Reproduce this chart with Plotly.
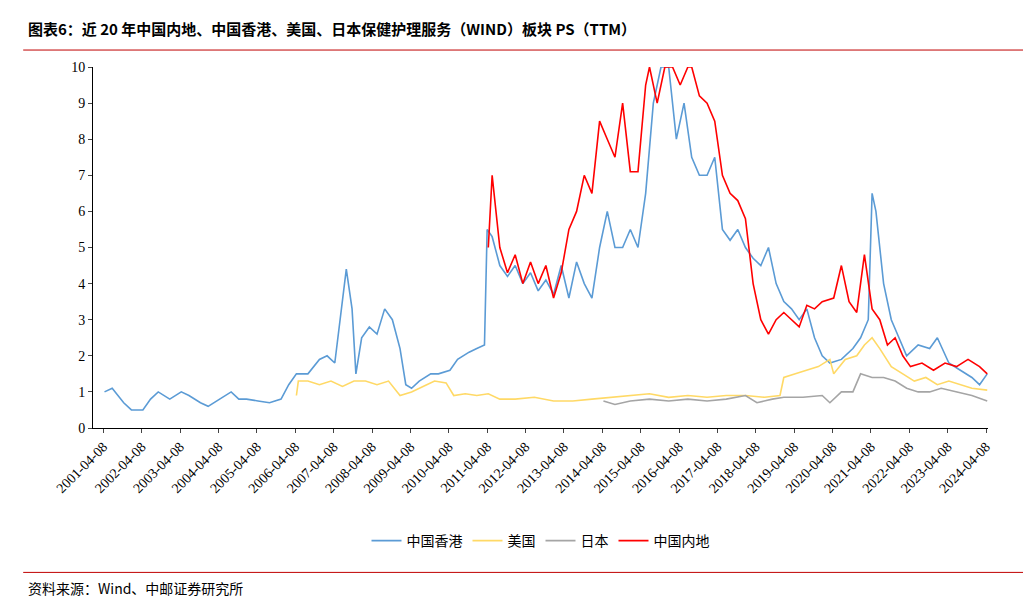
import plotly.graph_objects as go

# decimal years and PS values
hk_x = [2001.3, 2001.5, 2001.8, 2002.0, 2002.3, 2002.5, 2002.7, 2003.0, 2003.3, 2003.5, 2003.8, 2004.0, 2004.3, 2004.6,
        2004.8, 2005.0, 2005.3, 2005.6, 2005.9, 2006.1, 2006.3, 2006.6, 2006.9, 2007.1, 2007.3, 2007.5, 2007.6, 2007.75,
        2007.85, 2008.0, 2008.2, 2008.4, 2008.6, 2008.8, 2009.0, 2009.15, 2009.3, 2009.5, 2009.8, 2010.0, 2010.3, 2010.5,
        2010.8, 2011.0, 2011.2, 2011.27, 2011.4, 2011.6, 2011.8, 2012.0, 2012.2, 2012.4, 2012.6, 2012.8, 2013.0, 2013.2,
        2013.4, 2013.6, 2013.8, 2014.0, 2014.2, 2014.4, 2014.6, 2014.8, 2015.0, 2015.2, 2015.4, 2015.6, 2015.8, 2016.0,
        2016.2, 2016.4, 2016.6, 2016.8, 2017.0, 2017.2, 2017.4, 2017.6, 2017.8, 2018.0, 2018.2, 2018.4, 2018.6, 2018.8,
        2019.0, 2019.2, 2019.4, 2019.6, 2019.8, 2020.0, 2020.2, 2020.5, 2020.8, 2021.0, 2021.2, 2021.3, 2021.4, 2021.6,
        2021.8, 2022.0, 2022.2, 2022.5, 2022.8, 2023.0, 2023.3, 2023.6, 2023.9, 2024.1, 2024.3]
hk_y = [1.0, 1.1, 0.7, 0.5, 0.5, 0.8, 1.0, 0.8, 1.0, 0.9, 0.7, 0.6, 0.8, 1.0,
        0.8, 0.8, 0.75, 0.7, 0.8, 1.2, 1.5, 1.5, 1.9, 2.0, 1.8, 3.6, 4.4, 3.3,
        1.5, 2.5, 2.8, 2.6, 3.3, 3.0, 2.2, 1.2, 1.1, 1.3, 1.5, 1.5, 1.6, 1.9,
        2.1, 2.2, 2.3, 5.5, 5.3, 4.5, 4.2, 4.5, 4.0, 4.3, 3.8, 4.1, 3.7, 4.5,
        3.6, 4.6, 4.0, 3.6, 5.0, 6.0, 5.0, 5.0, 5.5, 5.0, 6.5, 9.0, 10, 10,
        8.0, 9.0, 7.5, 7.0, 7.0, 7.5, 5.5, 5.2, 5.5, 5.0, 4.7, 4.5, 5.0, 4.0,
        3.5, 3.3, 3.0, 3.3, 2.5, 2.0, 1.8, 1.9, 2.2, 2.5, 3.0, 6.5, 6.0, 4.0,
        3.0, 2.5, 2.0, 2.3, 2.2, 2.5, 1.8, 1.6, 1.4, 1.2, 1.5]

us_x = [2006.3, 2006.35, 2006.6, 2006.9, 2007.2, 2007.5, 2007.8, 2008.1, 2008.4, 2008.7, 2009.0, 2009.3, 2009.6, 2009.9,
        2010.2, 2010.4, 2010.7, 2011.0, 2011.3, 2011.6, 2012.0, 2012.5, 2013.0, 2013.5, 2014.0, 2014.5, 2015.0, 2015.5,
        2016.0, 2016.5, 2017.0, 2017.5, 2018.0, 2018.5, 2018.9, 2019.0, 2019.3, 2019.6, 2019.9, 2020.2, 2020.3, 2020.6,
        2020.9, 2021.1, 2021.3, 2021.5, 2021.8, 2022.1, 2022.4, 2022.7, 2023.0, 2023.3, 2023.6, 2023.9, 2024.3]
us_y = [0.9, 1.3, 1.3, 1.2, 1.3, 1.15, 1.3, 1.3, 1.2, 1.3, 0.9, 1.0, 1.15, 1.3,
        1.25, 0.9, 0.95, 0.9, 0.95, 0.8, 0.8, 0.85, 0.75, 0.75, 0.8, 0.85, 0.9, 0.95,
        0.85, 0.9, 0.85, 0.9, 0.9, 0.85, 0.9, 1.4, 1.5, 1.6, 1.7, 1.9, 1.5, 1.9,
        2.0, 2.3, 2.5, 2.2, 1.7, 1.5, 1.3, 1.4, 1.2, 1.3, 1.2, 1.1, 1.05]

jp_x = [2014.3, 2014.6, 2015.0, 2015.5, 2016.0, 2016.5, 2017.0, 2017.5, 2018.0, 2018.3, 2018.7, 2019.0, 2019.5, 2020.0,
        2020.2, 2020.5, 2020.8, 2021.0, 2021.3, 2021.6, 2021.9, 2022.2, 2022.5, 2022.8, 2023.1, 2023.5, 2023.9, 2024.3]
jp_y = [0.75, 0.65, 0.75, 0.8, 0.75, 0.8, 0.75, 0.8, 0.9, 0.7, 0.8, 0.85, 0.85, 0.9,
        0.7, 1.0, 1.0, 1.5, 1.4, 1.4, 1.3, 1.1, 1.0, 1.0, 1.1, 1.0, 0.9, 0.75]

cn_x = [2011.3, 2011.4, 2011.6, 2011.8, 2012.0, 2012.2, 2012.4, 2012.6, 2012.8, 2013.0, 2013.2, 2013.4, 2013.6, 2013.8,
        2014.0, 2014.2, 2014.4, 2014.6, 2014.8, 2015.0, 2015.2, 2015.4, 2015.5, 2015.7, 2015.9, 2016.1, 2016.3, 2016.5,
        2016.6, 2016.8, 2017.0, 2017.2, 2017.4, 2017.6, 2017.8, 2018.0, 2018.2, 2018.4, 2018.6, 2018.8, 2019.0, 2019.2,
        2019.4, 2019.6, 2019.8, 2020.0, 2020.3, 2020.5, 2020.7, 2020.9, 2021.1, 2021.3, 2021.5, 2021.7, 2021.9, 2022.1,
        2022.3, 2022.6, 2022.9, 2023.2, 2023.5, 2023.8, 2024.1, 2024.3]
cn_y = [5.0, 7.0, 5.0, 4.3, 4.8, 4.0, 4.6, 4.0, 4.5, 3.6, 4.3, 5.5, 6.0, 7.0,
        6.5, 8.5, 8.0, 7.5, 9.0, 7.1, 7.1, 9.5, 10, 9.0, 10, 10, 9.5, 10,
        10, 9.2, 9.0, 8.5, 7.0, 6.5, 6.3, 5.8, 4.0, 3.0, 2.6, 3.0, 3.2, 3.0,
        2.8, 3.4, 3.3, 3.5, 3.6, 4.5, 3.5, 3.2, 4.8, 3.3, 3.0, 2.3, 2.5, 2.0,
        1.7, 1.8, 1.6, 1.8, 1.7, 1.9, 1.7, 1.5]

tick_years = list(range(2001, 2025))
tick_text = [f"{y}-04-08" for y in tick_years]

fig = go.Figure()
series = [("中国香港", hk_x, hk_y, "#5B9BD5"), ("美国", us_x, us_y, "#FFD966"),
          ("日本", jp_x, jp_y, "#A5A5A5"), ("中国内地", cn_x, cn_y, "#FF0000")]
for name, x, y, c in series:
    fig.add_trace(go.Scatter(x=x, y=y, mode="lines", name=name, line=dict(color=c, width=1.6)))

fig.update_layout(
    width=1031, height=596, plot_bgcolor="white", paper_bgcolor="white",
    margin=dict(l=85, r=51, t=59, b=176, autoexpand=False),
    font=dict(family="Noto Sans CJK SC", size=13, color="black"),
    showlegend=True,
    legend=dict(orientation="h", x=0.5, xanchor="center", y=-0.313, yanchor="middle", font=dict(size=14)),
    xaxis=dict(range=[2001.0, 2024.32], tickvals=[y + 0.27 for y in tick_years], ticktext=tick_text,
               tickangle=-45, showgrid=False, showline=True, linecolor="black", ticks="outside", ticklen=4,
               tickfont=dict(family="Liberation Serif", size=14)),
    yaxis=dict(range=[0, 10], dtick=1, showgrid=False, showline=True, linecolor="black", ticks="outside",
               ticklen=4, tickfont=dict(family="Liberation Serif", size=14), zeroline=False),
)
fig.add_annotation(text="<b>图表6：近 20 年中国内地、中国香港、美国、日本保健护理服务（WIND）板块 PS（TTM）</b>",
                   xref="paper", yref="paper", x=-0.075, y=1.108, xanchor="left", yanchor="middle",
                   showarrow=False, font=dict(size=15))
fig.add_annotation(text="资料来源：Wind、中邮证券研究所", xref="paper", yref="paper", x=-0.075, y=-0.443,
                   xanchor="left", yanchor="middle", showarrow=False, font=dict(size=14))
for yy in [1.047, -0.40]:
    fig.add_shape(type="line", xref="paper", yref="paper", x0=-0.078, x1=1.05, y0=yy, y1=yy,
                  line=dict(color="#C00000", width=1))

fig.write_html("out.html")
